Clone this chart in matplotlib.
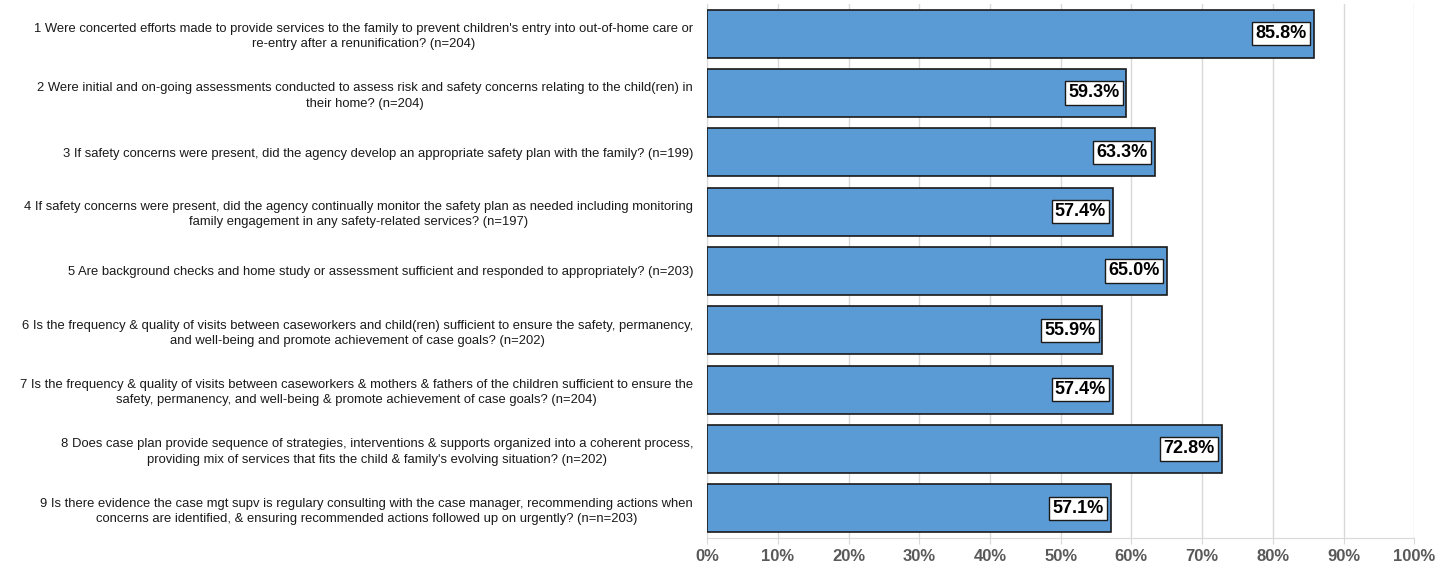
import matplotlib.pyplot as plt
from matplotlib.ticker import PercentFormatter

# Questions (top to bottom) and percent "yes"
perguntas = [
    "1 Were concerted efforts made to provide services to the family to prevent children's entry into out-of-home care or\nre-entry after a renunification? (n=204)",
    "2 Were initial and on-going assessments conducted to assess risk and safety concerns relating to the child(ren) in\ntheir home? (n=204)",
    "3 If safety concerns were present, did the agency develop an appropriate safety plan with the family? (n=199)",
    "4 If safety concerns were present, did the agency continually monitor the safety plan as needed including monitoring\nfamily engagement in any safety-related services? (n=197)",
    "5 Are background checks and home study or assessment sufficient and responded to appropriately? (n=203)",
    "6 Is the frequency & quality of visits between caseworkers and child(ren) sufficient to ensure the safety, permanency,\nand well-being and promote achievement of case goals? (n=202)",
    "7 Is the frequency & quality of visits between caseworkers & mothers & fathers of the children sufficient to ensure the\nsafety, permanency, and well-being & promote achievement of case goals? (n=204)",
    "8 Does case plan provide sequence of strategies, interventions & supports organized into a coherent process,\nproviding mix of services that fits the child & family's evolving situation? (n=202)",
    "9 Is there evidence the case mgt supv is regulary consulting with the case manager, recommending actions when\nconcerns are identified, & ensuring recommended actions followed up on urgently? (n=n=203)",
]
valores = [85.8, 59.3, 63.3, 57.4, 65.0, 55.9, 57.4, 72.8, 57.1]

plt.rcParams['font.family'] = ['Liberation Sans', 'DejaVu Sans']

fig = plt.figure(figsize=(14.55, 5.69), dpi=100)
ax = fig.add_axes([0.486, 0.0545, 0.486, 0.9385])

pos = list(range(len(valores)))
barras = ax.barh(pos, valores, height=0.81, color='#5B9BD5',
                 edgecolor='#1a1a1a', linewidth=1.2, zorder=3)
ax.set_ylim(len(valores) - 0.5, -0.5)
ax.set_xlim(0, 100)

# rótulos de valor dentro da barra
for b, v in zip(barras, valores):
    ax.annotate(f"{v:.1f}%", xy=(b.get_width(), b.get_y() + b.get_height() / 2),
                xytext=(-5, 0), textcoords='offset points', ha='right', va='center',
                fontsize=13, fontweight='bold', color='black', zorder=5,
                bbox=dict(boxstyle='square,pad=0.18', fc='white', ec='#1a1a1a', lw=1))

ax.set_yticks(pos)
ax.set_yticklabels(perguntas, fontsize=9.4, multialignment='center', color='#1a1a1a')
for t in ax.get_yticklabels():
    t.set_linespacing(1.35)
ax.tick_params(axis='y', length=0, pad=10)

ax.set_xticks(range(0, 101, 10))
ax.xaxis.set_major_formatter(PercentFormatter(decimals=0))
for t in ax.get_xticklabels():
    t.set_fontweight('bold')
ax.tick_params(axis='x', labelsize=12, colors='#d9d9d9', labelcolor='#595959', length=4, pad=4)

ax.grid(axis='x', color='#d9d9d9', linewidth=1, zorder=0)
for s in ['top', 'right']:
    ax.spines[s].set_visible(False)
for s in ['left', 'bottom']:
    ax.spines[s].set_color('#d9d9d9')

fig.savefig('out.png', dpi=100)
